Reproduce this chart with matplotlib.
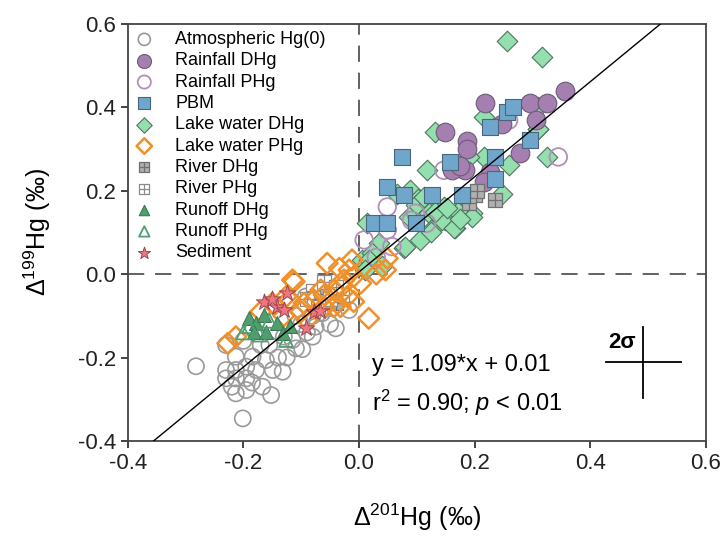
import matplotlib
matplotlib.use("Agg")
import matplotlib.pyplot as plt
from matplotlib.path import Path
import numpy as np

plt.rcParams['font.family'] = ['Liberation Sans', 'DejaVu Sans']
plt.rcParams['mathtext.fontset'] = 'custom'
plt.rcParams['mathtext.rm'] = 'Liberation Sans'
plt.rcParams['mathtext.it'] = 'Liberation Sans:italic'
plt.rcParams['mathtext.bf'] = 'Liberation Sans:bold'

# ---------------- data ----------------
atm_x = [-0.282, -0.201, -0.23, -0.23, -0.23, -0.213, -0.213, -0.213, -0.213, -0.195, -0.195, -0.195,
         -0.178, -0.184, -0.161, -0.167, -0.152, -0.149, -0.132, -0.14, -0.125, -0.17, -0.155, -0.109,
         -0.098, -0.115, -0.08, -0.09, -0.092, -0.064, -0.075, -0.04, -0.017, -0.05, -0.2, -0.185,
         -0.22, -0.1, -0.13, -0.06, -0.11, -0.08]
atm_y = [-0.221, -0.346, -0.17, -0.23, -0.25, -0.198, -0.23, -0.25, -0.286, -0.222, -0.25, -0.278,
         -0.23, -0.198, -0.206, -0.27, -0.29, -0.23, -0.234, -0.2, -0.2, -0.17, -0.17, -0.178,
         -0.18, -0.158, -0.15, -0.14, -0.054, -0.094, -0.126, -0.13, -0.086, -0.12, -0.16, -0.26,
         -0.27, -0.12, -0.15, -0.08, -0.1, -0.1]

rain_d_x = [0.356, 0.218, 0.296, 0.326, 0.307, 0.248, 0.149, 0.187, 0.187, 0.278, 0.184, 0.161, 0.227, 0.216, 0.175]
rain_d_y = [0.44, 0.41, 0.41, 0.41, 0.37, 0.36, 0.34, 0.32, 0.30, 0.29, 0.25, 0.25, 0.245, 0.22, 0.26]

rain_p_x = [0.345, 0.147, 0.049, 0.009, 0.057, 0.091, 0.117, 0.049, 0.259, 0.098, 0.03]
rain_p_y = [0.281, 0.249, 0.161, 0.082, 0.066, 0.129, 0.122, 0.106, 0.369, 0.146, 0.04]

pbm_x = [0.075, 0.049, 0.078, 0.126, 0.158, 0.178, 0.236, 0.236, 0.227, 0.257, 0.267, 0.296, 0.026, 0.049, 0.098]
pbm_y = [0.281, 0.209, 0.189, 0.189, 0.269, 0.189, 0.281, 0.229, 0.353, 0.389, 0.40, 0.321, 0.122, 0.122, 0.122]

lake_d_x = [0.256, 0.316, 0.217, 0.309, 0.309, 0.185, 0.217, 0.259, 0.325, 0.247, 0.184, 0.195,
            0.132, 0.118, 0.066, 0.089, 0.103, 0.098, 0.121, 0.147, 0.155, 0.172, 0.195, 0.187,
            0.121, 0.086, 0.149, 0.129, 0.167, 0.106, 0.078, 0.014, 0.034, 0.006, 0.023, 0.31,
            0.017, 0.08, 0.124, 0.144, 0.164, 0.175, 0.132, 0.152, 0.112, 0.19, 0.01, 0.04]
lake_d_y = [0.559, 0.52, 0.376, 0.40, 0.347, 0.28, 0.28, 0.261, 0.281, 0.192, 0.17, 0.146,
            0.341, 0.249, 0.193, 0.201, 0.181, 0.165, 0.169, 0.161, 0.137, 0.149, 0.137, 0.177,
            0.146, 0.137, 0.129, 0.11, 0.11, 0.082, 0.062, 0.122, 0.074, 0.034, 0.05, 0.349,
            0.034, 0.065, 0.101, 0.129, 0.11, 0.133, 0.149, 0.158, 0.185, 0.281, 0.01, 0.02]

lake_p_x = [-0.112, -0.055, -0.034, -0.012, -0.017, -0.026, -0.009, 0.003, 0.017, -0.009, -0.02,
            -0.043, -0.066, -0.078, -0.06, -0.043, -0.095, -0.1, -0.227, -0.213, -0.115, -0.126,
            0.046, -0.032, 0.049, 0.03, -0.17, -0.15, -0.13, -0.12, -0.09, -0.06, -0.03]
lake_p_y = [-0.018, 0.026, 0.014, 0.034, 0.01, -0.014, -0.006, -0.022, -0.106, -0.066, -0.054,
            -0.038, -0.038, -0.062, -0.078, -0.078, -0.07, -0.09, -0.166, -0.15, -0.014, -0.054,
            0.01, -0.078, 0.038, 0.0, -0.09, -0.07, -0.1, -0.06, -0.11, -0.05, -0.03]

river_d_x = [0.2, 0.19, 0.205, 0.236, -0.05, -0.07, -0.04, -0.06]
river_d_y = [0.19, 0.17, 0.2, 0.177, -0.05, -0.06, -0.07, -0.03]

river_p_x = [-0.08, -0.06, -0.05, -0.03, -0.09, -0.07, -0.04]
river_p_y = [-0.04, -0.02, -0.06, -0.05, -0.06, -0.08, -0.03]

runoff_d_x = [-0.19, -0.178, -0.164, -0.181, -0.16, -0.141, -0.132, -0.12]
runoff_d_y = [-0.106, -0.118, -0.098, -0.138, -0.14, -0.118, -0.142, -0.125]

runoff_p_x = [-0.19, -0.172, -0.155, -0.126, -0.2]
runoff_p_y = [-0.125, -0.145, -0.112, -0.158, -0.14]

sed_x = [-0.164, -0.141, -0.124, -0.13, -0.078, -0.068, -0.092, -0.15]
sed_y = [-0.066, -0.078, -0.046, -0.085, -0.09, -0.088, -0.13, -0.06]

# regression line as drawn in the figure
line_slope, line_intercept = 1.14, 0.005
eq_text = 'y = 1.09*x + 0.01'
r2_text = r'$\mathregular{r^2}$ = 0.90; $\it{p}$ < 0.01'
x_ticks = [-0.4, -0.2, 0.0, 0.2, 0.4, 0.6]
y_ticks = [-0.4, -0.2, 0.0, 0.2, 0.4, 0.6]

# grid-square marker
grid_sq = Path([(-1, -1), (1, -1), (1, 1), (-1, 1), (-1, -1), (0, -1), (0, 1), (-1, 0), (1, 0)],
               [Path.MOVETO, Path.LINETO, Path.LINETO, Path.LINETO, Path.CLOSEPOLY,
                Path.MOVETO, Path.LINETO, Path.MOVETO, Path.LINETO])

fig = plt.figure(figsize=(7.26, 5.43), dpi=100)
ax = fig.add_axes([0.176, 0.188, 0.796, 0.768])

ax.axvline(0, color='#555555', lw=1.3, dashes=(9, 6), zorder=1)
ax.axhline(0, color='#555555', lw=1.3, dashes=(9, 6), zorder=1)

h = {}
h['atm'] = ax.scatter(atm_x, atm_y, s=135, marker='o', facecolors='none', edgecolors='#9a9a9a', linewidths=1.2, zorder=2)
h['lake_d'] = ax.scatter(lake_d_x, lake_d_y, s=110, marker='D', facecolors='#93dfae', edgecolors='#4f7560', linewidths=0.8, zorder=3)
h['rain_p'] = ax.scatter(rain_p_x, rain_p_y, s=160, marker='o', facecolors='none', edgecolors='#b08fbb', linewidths=1.3, zorder=3)
h['rain_d'] = ax.scatter(rain_d_x, rain_d_y, s=180, marker='o', facecolors='#a47fb0', edgecolors='#6e5a78', linewidths=0.8, zorder=4)
h['pbm'] = ax.scatter(pbm_x, pbm_y, s=120, marker='s', facecolors='#70a6cc', edgecolors='#48667c', linewidths=0.8, zorder=5)
h['river_d'] = ax.scatter(river_d_x, river_d_y, s=95, marker=grid_sq, facecolors='#b0b0b0', edgecolors='#707070', linewidths=0.9, zorder=4)
h['river_p'] = ax.scatter(river_p_x, river_p_y, s=95, marker=grid_sq, facecolors='white', edgecolors='#8a8a8a', linewidths=0.9, zorder=4)
h['lake_p'] = ax.scatter(lake_p_x, lake_p_y, s=110, marker='D', facecolors='none', edgecolors='#f0902a', linewidths=1.8, zorder=5)
h['runoff_d'] = ax.scatter(runoff_d_x, runoff_d_y, s=100, marker='^', facecolors='#4f9e70', edgecolors='#3c7a55', linewidths=0.8, zorder=6)
h['runoff_p'] = ax.scatter(runoff_p_x, runoff_p_y, s=100, marker='^', facecolors='none', edgecolors='#4f9e70', linewidths=1.3, zorder=6)
h['sed'] = ax.scatter(sed_x, sed_y, s=150, marker='*', facecolors='#ef7580', edgecolors='#9c4550', linewidths=0.7, zorder=7)

# regression line
xl = np.array([(-0.4 - line_intercept) / line_slope, (0.6 - line_intercept) / line_slope])
ax.plot(xl, line_slope * xl + line_intercept, color='black', lw=1.0, zorder=8)

# 2 sigma cross
ax.plot([0.427, 0.557], [-0.211, -0.211], color='black', lw=1.3, zorder=8)
ax.plot([0.492, 0.492], [-0.127, -0.297], color='black', lw=1.3, zorder=8)
ax.text(0.455, -0.163, '2σ', fontsize=16, fontweight='bold', ha='center', va='center')

ax.text(0.022, -0.218, eq_text, fontsize=17, ha='left', va='center')
ax.text(0.022, -0.31, r2_text, fontsize=17, ha='left', va='center')

ax.set_xlim(-0.4, 0.6)
ax.set_ylim(-0.4, 0.6)
ax.set_xticks(x_ticks)
ax.set_yticks(y_ticks)
ax.set_xticklabels([f'{v:.1f}' for v in x_ticks])
ax.set_yticklabels([f'{v:.1f}' for v in y_ticks])
ax.tick_params(direction='out', length=5, width=1.2, labelsize=16, colors='#222222', top=False, right=False)
for sp in ax.spines.values():
    sp.set_color('#444444')
    sp.set_linewidth(1.3)

ax.set_xlabel(r'$\mathregular{\Delta^{201}}$Hg (‰)', fontsize=18, labelpad=20)
ax.set_ylabel(r'$\mathregular{\Delta^{199}}$Hg (‰)', fontsize=18, labelpad=18)

order = ['atm', 'rain_d', 'rain_p', 'pbm', 'lake_d', 'lake_p', 'river_d', 'river_p', 'runoff_d', 'runoff_p', 'sed']
labels = ['Atmospheric Hg(0)', 'Rainfall DHg', 'Rainfall PHg', 'PBM', 'Lake water DHg', 'Lake water PHg',
          'River DHg', 'River PHg', 'Runoff DHg', 'Runoff PHg', 'Sediment']
leg = ax.legend([h[k] for k in order], labels, loc='upper left', bbox_to_anchor=(-0.012, 1.013),
                frameon=False, fontsize=13, labelspacing=0.24, handletextpad=1.1,
                borderaxespad=0.3, scatterpoints=1, markerscale=0.75, handlelength=1.2)

fig.savefig('out.png', dpi=100)
